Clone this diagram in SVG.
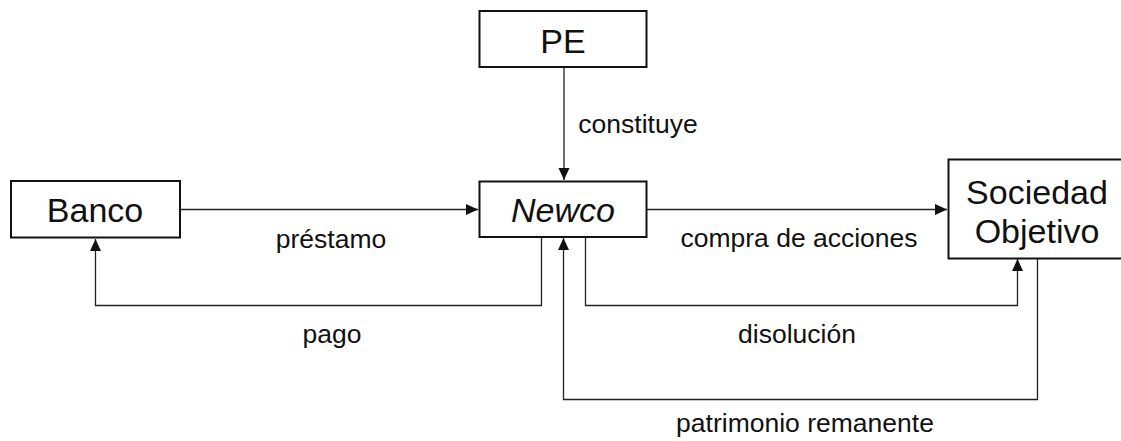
<svg xmlns="http://www.w3.org/2000/svg" width="1121" height="441" viewBox="0 0 1121 441">
<style>
.box{fill:#fff;stroke:#111;stroke-width:2}
.bt{font-family:"Liberation Sans",Arial,sans-serif;font-size:34px;fill:#111;text-anchor:middle}
.lt{font-family:"Liberation Sans",Arial,sans-serif;font-size:26.5px;fill:#111;text-anchor:middle}
.c{fill:none;stroke:#222;stroke-width:1.3}
</style>
<defs>
<marker id="ah" viewBox="0 0 12 12" refX="12" refY="6" markerWidth="12" markerHeight="12" markerUnits="userSpaceOnUse" orient="auto">
<path d="M0,0.5 L12,6 L0,11.5 Z" fill="#111"/>
</marker>
</defs>
<rect width="1121" height="441" fill="#fff"/>
<g id="connectors">
<path class="c" d="M564,67 V180" marker-end="url(#ah)"/>
<path class="c" d="M180,209.5 H478" marker-end="url(#ah)"/>
<path class="c" d="M647,209.5 H947" marker-end="url(#ah)"/>
<path class="c" d="M541.5,237 V305.5 H95.5 V239" marker-end="url(#ah)"/>
<path class="c" d="M585.5,237 V305.5 H1017.5 V259" marker-end="url(#ah)"/>
<path class="c" d="M1037.5,258 V399.5 H563.5 V238" marker-end="url(#ah)"/>
<text class="lt" x="638" y="133">constituye</text>
<text class="lt" x="331" y="248">préstamo</text>
<text class="lt" x="799" y="247">compra de acciones</text>
<text class="lt" x="332" y="343">pago</text>
<text class="lt" x="797" y="343">disolución</text>
<text class="lt" x="805" y="432">patrimonio remanente</text>
</g>
<g id="pe">
<rect class="box" x="479.5" y="11" width="167" height="56"/>
<text class="bt" x="563" y="53">PE</text>
</g>
<g id="newco">
<rect class="box" x="479.5" y="181.5" width="167" height="55.5"/>
<text class="bt" x="563" y="222" font-style="italic">Newco</text>
</g>
<g id="banco">
<rect class="box" x="11" y="181" width="169" height="56.5"/>
<text class="bt" x="95" y="222">Banco</text>
</g>
<g id="sociedad">
<rect class="box" x="948.5" y="159.5" width="180" height="99"/>
<text class="bt" x="1037" y="204">Sociedad</text>
<text class="bt" x="1037" y="243">Objetivo</text>
</g>
</svg>
